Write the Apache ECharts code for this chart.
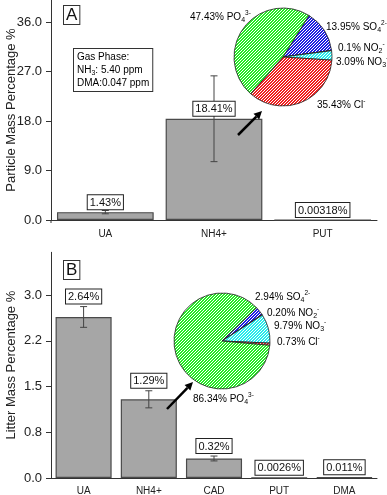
<!DOCTYPE html>
<html><head><meta charset="utf-8">
<script src="https://cdn.jsdelivr.net/npm/echarts@6/dist/echarts.min.js"></script>
<style>html,body{margin:0;padding:0;background:#fff}#c{width:387px;height:495px}</style>
</head><body><div id="c"></div>
<script>
// ---- Data ----
const catsA = ['UA', 'NH4+', 'PUT'];
const valsA = [1.43, 18.41, 0.00318];
const errA = [0.3, 7.8, 0];
const catsB = ['UA', 'NH4+', 'CAD', 'PUT', 'DMA'];
const valsB = [2.64, 1.29, 0.32, 0.0026, 0.011];
const errB = [0.17, 0.14, 0.04, 0, 0];
const ticksB = ['0.0', '0.8', '1.5', '2.2', '3.0'];
const ions = ['SO4', 'NO2', 'NO3', 'Cl', 'PO4'];
const pieA = [13.95, 0.1, 3.09, 35.43, 47.43];
const pieAText = ['13.95', '0.1', '3.09', '35.43', '47.43'];
const pieB = [2.94, 0.20, 9.79, 0.73, 86.34];
const pieBText = ['2.94', '0.20', '9.79', '0.73', '86.34'];

// ---- Styles ----
const FONT = 'Liberation Sans, Arial, sans-serif';
function hatch(base) {
  const c = document.createElement('canvas');
  c.width = 6; c.height = 6;
  const g = c.getContext('2d');
  g.fillStyle = base; g.fillRect(0, 0, 6, 6);
  g.fillStyle = '#ffffff';
  for (let x = 0; x < 6; x++) for (let y = 0; y < 6; y++) if ((x + y) % 3 === 0) g.fillRect(x, y, 1, 1);
  return { image: c, repeat: 'repeat' };
}
const ionColor = {
  SO4: hatch('rgb(30,30,225)'),
  NO2: hatch('rgb(20,20,140)'),
  NO3: hatch('rgb(40,235,235)'),
  Cl: hatch('rgb(240,30,30)'),
  PO4: hatch('rgb(35,235,35)')
};
const ionRich = {
  SO4: ['SO', '4', '2-'], NO2: ['NO', '2', '-'], NO3: ['NO', '3', '-'], Cl: ['Cl', '', '-'], PO4: ['PO', '4', '3-']
};
function ionText(t, ion) {
  const r = ionRich[ion];
  return '{m|' + t + '% ' + r[0] + '}' + (r[1] ? '{sub|' + r[1] + '}' : '') + '{sup|' + r[2] + '}';
}
const richStyle = {
  m: { fontSize: 10, fontFamily: FONT, color: '#111', lineHeight: 14, verticalAlign: 'middle' },
  sub: { fontSize: 7, fontFamily: FONT, color: '#111', lineHeight: 14, verticalAlign: 'bottom' },
  sup: { fontSize: 6.5, fontFamily: FONT, color: '#111', lineHeight: 14, verticalAlign: 'top' }
};

function pieData(vals) {
  return vals.map((v, i) => ({ name: ions[i], value: v, itemStyle: { color: ionColor[ions[i]] } }));
}

const labelPosA = [[326, 27], [338, 48], [336, 62], [317, 105], [190, 17]];
const labelPosB = [[255, 297], [267, 313], [274, 326], [277, 342], [193, 399]];

function pieLabels(texts, pos) {
  return texts.map((t, i) => ({
    type: 'text', left: pos[i][0], top: pos[i][1] - 7, z: 50,
    style: { text: ionText(t, ions[i]), rich: richStyle }
  }));
}

// error bars + value boxes; anchorOnErr: box sits above the error bar top
function errSeries(xi, yi, vals, errs, anchorOnErr) {
  return {
    type: 'custom', xAxisIndex: xi, yAxisIndex: yi, z: 5,
    data: vals.map((v, i) => [i, v - errs[i], v + errs[i], v]),
    renderItem: function (params, api) {
      const lo = api.coord([api.value(0), api.value(1)]);
      const hi = api.coord([api.value(0), api.value(2)]);
      const mid = api.coord([api.value(0), api.value(3)]);
      const s = { stroke: '#444', lineWidth: 1 };
      const w = 3.5;
      const children = [];
      if (Math.abs(lo[1] - hi[1]) >= 1) {
        children.push(
          { type: 'line', shape: { x1: lo[0], y1: lo[1], x2: hi[0], y2: hi[1] }, style: s },
          { type: 'line', shape: { x1: lo[0] - w, y1: lo[1], x2: lo[0] + w, y2: lo[1] }, style: s },
          { type: 'line', shape: { x1: hi[0] - w, y1: hi[1], x2: hi[0] + w, y2: hi[1] }, style: s }
        );
      }
      const ay = (anchorOnErr ? hi[1] : mid[1]) - 3;
      children.push({
        type: 'text', x: mid[0], y: ay, z2: 10,
        style: {
          text: String(vals[params.dataIndex]) + '%', fontSize: 11, fontFamily: FONT, fill: '#111',
          align: 'center', verticalAlign: 'bottom',
          backgroundColor: '#fff', borderColor: '#222', borderWidth: 1, padding: [2, 2, 1, 2]
        }
      });
      return { type: 'group', children: children };
    }
  };
}

const barStyle = { color: '#a6a6a6', borderColor: '#4a4a4a', borderWidth: 1.2 };

function arrow(x1, y1, x2, y2) {
  const ang = Math.atan2(y2 - y1, x2 - x1);
  const L = 8, W = 4;
  const bx = x2 - L * Math.cos(ang), by = y2 - L * Math.sin(ang);
  const px = -Math.sin(ang) * W, py = Math.cos(ang) * W;
  return [
    { type: 'line', z: 40, shape: { x1: x1, y1: y1, x2: bx, y2: by }, style: { stroke: '#000', lineWidth: 2.5 } },
    { type: 'polygon', z: 40, shape: { points: [[x2, y2], [bx + px, by + py], [bx - px, by - py]] }, style: { fill: '#000' } }
  ];
}

function yAxisCfg(idx, max, interval, name, fmt) {
  return {
    type: 'value', gridIndex: idx, min: 0, max: max, interval: interval,
    name: name, nameLocation: 'middle', nameGap: 33, nameMoveOverlap: false,
    nameTextStyle: { fontSize: 13, color: '#222', fontFamily: FONT },
    axisLine: { show: true, lineStyle: { color: '#333' } },
    axisTick: { show: true, length: 5, lineStyle: { color: '#333' } },
    splitLine: { show: false },
    axisLabel: { fontSize: 13, color: '#222', margin: 9, showMaxLabel: false, fontFamily: FONT, formatter: fmt }
  };
}
function xAxisCfg(idx, data, offset) {
  return {
    type: 'category', gridIndex: idx, data: data, offset: offset,
    axisLine: { lineStyle: { color: '#333', width: 1 } },
    axisTick: { length: 5, lineStyle: { color: '#333' } },
    axisLabel: { fontSize: 10, color: '#222', margin: 7, fontFamily: FONT }
  };
}

const option = {
  animation: false,
  textStyle: { fontFamily: FONT },
  grid: [
    { left: 51, right: 10, top: 0, height: 220, outerBoundsMode: 'none', containLabel: false },
    { left: 51, right: 10, top: 252.3, height: 225.7, outerBoundsMode: 'none', containLabel: false }
  ],
  xAxis: [xAxisCfg(0, catsA, 2), xAxisCfg(1, catsB, 1)],
  yAxis: [
    yAxisCfg(0, 40, 9, 'Particle Mass Percentage %', v => v.toFixed(1)),
    yAxisCfg(1, 3.7, 0.75, 'Litter Mass Percentage %', v => { const i = Math.round(v / 0.75); return ticksB[i] !== undefined ? ticksB[i] : ''; })
  ],
  series: [
    { type: 'bar', xAxisIndex: 0, yAxisIndex: 0, data: valsA, barWidth: '89%', itemStyle: barStyle },
    { type: 'bar', xAxisIndex: 1, yAxisIndex: 1, data: valsB, barWidth: '86%', itemStyle: barStyle },
    errSeries(0, 0, valsA, errA, false),
    errSeries(1, 1, valsB, errB, true),
    { type: 'pie', center: [283, 57], radius: 49, startAngle: 58, clockwise: true,
      label: { show: false }, labelLine: { show: false }, z: 20,
      itemStyle: { borderColor: '#222', borderWidth: 0.8 }, data: pieData(pieA) },
    { type: 'pie', center: [222, 341], radius: 48, startAngle: 44, clockwise: true,
      label: { show: false }, labelLine: { show: false }, z: 20,
      itemStyle: { borderColor: '#222', borderWidth: 0.8 }, data: pieData(pieB) }
  ],
  graphic: [
    { type: 'line', shape: { x1: 51, y1: 220, x2: 51, y2: 223 }, style: { stroke: '#333', lineWidth: 1 } },
    { type: 'text', left: 63, top: 5, z: 30,
      style: { text: 'A', fontSize: 17, fontFamily: FONT, fill: '#111', backgroundColor: '#fff', borderColor: '#333', borderWidth: 1, padding: [1, 2, 0, 2] } },
    { type: 'text', left: 63, top: 260, z: 30,
      style: { text: 'B', fontSize: 17, fontFamily: FONT, fill: '#111', backgroundColor: '#fff', borderColor: '#333', borderWidth: 1, padding: [1, 2, 0, 2] } },
    { type: 'text', left: 73, top: 48, z: 30,
      style: {
        text: '{t|Gas Phase:}\n{t|NH}{s|3}{t|: 5.40 ppm}\n{t|DMA:0.047 ppm}',
        backgroundColor: '#fff', borderColor: '#333', borderWidth: 1, padding: [2, 3, 1, 3],
        rich: {
          t: { fontSize: 10, fontFamily: FONT, color: '#111', lineHeight: 13 },
          s: { fontSize: 7, fontFamily: FONT, color: '#111', lineHeight: 13, verticalAlign: 'bottom' }
        }
      } }
  ].concat(arrow(238, 135, 262, 111), arrow(167, 409, 193, 382), pieLabels(pieAText, labelPosA), pieLabels(pieBText, labelPosB))
};
const chart = echarts.init(document.getElementById('c'), null, { renderer: 'canvas' });
chart.setOption(option);
</script></body></html>
